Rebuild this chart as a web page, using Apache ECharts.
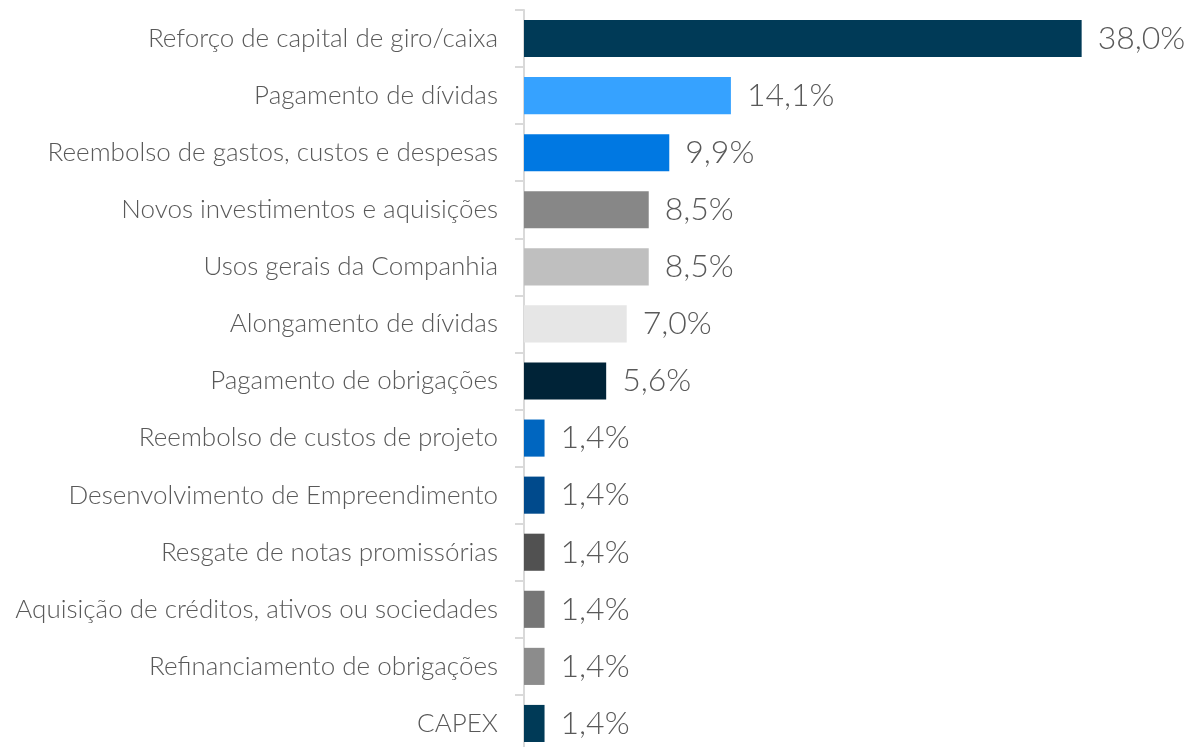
<!DOCTYPE html>
<html><head><meta charset="utf-8">
<script src="https://cdn.jsdelivr.net/npm/echarts@6/dist/echarts.min.js"></script>
<style>html,body{margin:0;padding:0;background:#fff;overflow:hidden}#c{width:1192px;height:752px}</style>
</head><body><div id="c"></div>
<script>
const categories = [
  "Reforço de capital de giro/caixa",
  "Pagamento de dívidas",
  "Reembolso de gastos, custos e despesas",
  "Novos investimentos e aquisições",
  "Usos gerais da Companhia",
  "Alongamento de dívidas",
  "Pagamento de obrigações",
  "Reembolso de custos de projeto",
  "Desenvolvimento de Empreendimento",
  "Resgate de notas promissórias",
  "Aquisição de créditos, ativos ou sociedades",
  "Refinanciamento de obrigações",
  "CAPEX"
];
const values = [38.0, 14.1, 9.9, 8.5, 8.5, 7.0, 5.6, 1.4, 1.4, 1.4, 1.4, 1.4, 1.4];
const colors = ["#003A57","#36A2FF","#0078E2","#878787","#BFBFBF","#E6E6E6","#002337","#0066C0","#004A8C","#515151","#767676","#8C8C8C","#003A57"];

const chart = echarts.init(document.getElementById('c'));
chart.setOption({
  animation: false,
  grid: {left: 524, right: 81, top: 10, bottom: 0, containLabel: false},
  xAxis: {type: 'value', min: 0, max: 40, show: false},
  yAxis: {
    type: 'category', data: categories, inverse: true,
    axisLine: {show: true, lineStyle: {color: '#D9D9D9', width: 2}},
    axisTick: {show: true, length: 9, lineStyle: {color: '#D9D9D9', width: 2}},
    axisLabel: {margin: 26, color: '#595959', fontFamily: 'Lato', fontWeight: 300, fontSize: 26}
  },
  series: [{
    type: 'bar',
    data: values.map((v, i) => ({value: v, itemStyle: {color: colors[i]}})),
    barCategoryGap: '35%',
    label: {
      show: true, position: 'right', distance: 16,
      color: '#595959', fontFamily: 'Lato', fontWeight: 300, fontSize: 32,
      formatter: p => p.value.toFixed(1).replace('.', ',') + '%'
    }
  }]
});
</script></body></html>
